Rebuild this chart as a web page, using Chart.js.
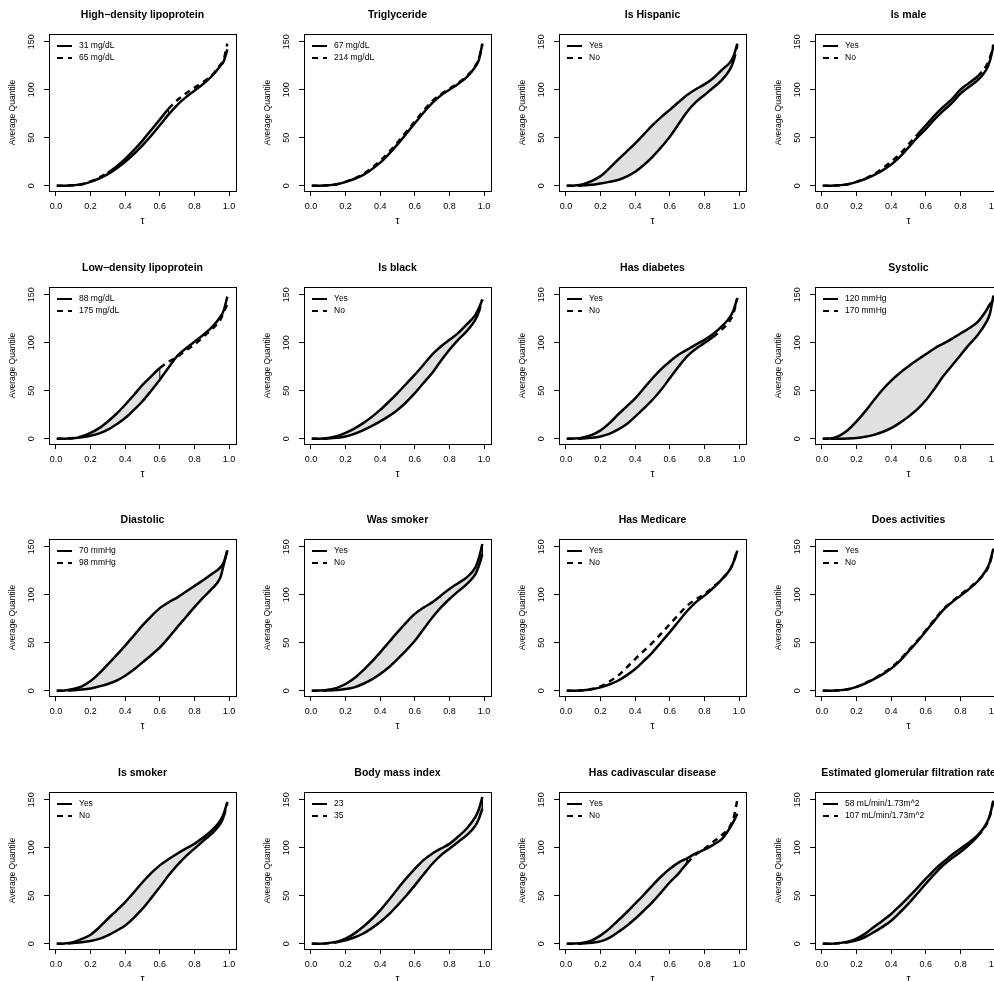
<!DOCTYPE html>
<html>
<head>
<meta charset="utf-8">
<script src="https://cdn.jsdelivr.net/npm/chart.js@4.4.1/dist/chart.umd.min.js"></script>
<style>
html, body { margin: 0; padding: 0; background: #fff; overflow: hidden; }
#wrap { position: relative; width: 994px; height: 981px; overflow: hidden; }
canvas { position: absolute; }
</style>
</head>
<body>
<div id="wrap"></div>
<script>
// quantile levels shared by every panel
const tau = [0.005, 0.05, 0.1, 0.15, 0.2, 0.25, 0.3, 0.35, 0.4, 0.45, 0.5, 0.55, 0.6, 0.65, 0.7, 0.75, 0.8, 0.85, 0.9, 0.95, 0.97, 0.99];

const titles = [
    'High\u2212density lipoprotein', 'Triglyceride', 'Is Hispanic', 'Is male',
    'Low\u2212density lipoprotein', 'Is black', 'Has diabetes', 'Systolic',
    'Diastolic', 'Was smoker', 'Has Medicare', 'Does activities',
    'Is smoker', 'Body mass index', 'Has cadivascular disease', 'Estimated glomerular filtration rate'
];

const legendLabels = [
    ['31 mg/dL', '65 mg/dL'], ['67 mg/dL', '214 mg/dL'], ['Yes', 'No'], ['Yes', 'No'],
    ['88 mg/dL', '175 mg/dL'], ['Yes', 'No'], ['Yes', 'No'], ['120 mmHg', '170 mmHg'],
    ['70 mmHg', '98 mmHg'], ['Yes', 'No'], ['Yes', 'No'], ['Yes', 'No'],
    ['Yes', 'No'], ['23', '35'], ['Yes', 'No'], ['58 mL/min/1.73m^2', '107 mL/min/1.73m^2']
];

// average quantile, solid group / dashed group
const hdlSolid   = [0, 0, 0.5, 1.5, 4, 7.5, 12, 18, 25, 33, 42, 52, 63, 74, 84, 92, 99, 106, 114, 125, 130, 142];
const hdlDashed  = [0, 0, 0.5, 1.5, 4.5, 8.5, 13.5, 20, 28, 37, 47, 58, 69, 80, 89, 96, 102, 108, 115, 126, 132, 148];
const triSolid   = [0, 0, 0.5, 1.5, 4, 7, 11, 17, 24, 33, 43, 54, 65, 76, 86, 94, 100, 106, 113, 124, 131, 148];
const triDashed  = [0, 0, 0.5, 1.5, 4, 7.5, 12, 18.5, 26, 35, 45, 56, 67, 78, 88, 95, 101, 107, 114, 125, 132, 147];
const hispSolid  = [0, 0.3, 1.7, 5, 10, 18, 27, 35.5, 44, 53.5, 63, 71.5, 79, 87, 94.5, 100.5, 105.5, 112, 120.5, 129, 136, 148];
const hispDashed = [0, 0, 0.3, 1, 2.4, 4, 6, 9.5, 14.6, 21.5, 30, 40, 51, 64, 77, 87, 94.5, 102, 110, 122, 131, 146];
const maleSolid  = [0, 0, 0.5, 1.5, 4, 7, 11, 16, 22, 30, 40, 50, 59, 69, 78, 86, 96, 103, 110, 121, 130, 145];
const maleDashed = [0, 0, 0.5, 1.5, 4, 7.5, 12, 18, 25, 33, 43, 53, 63, 73, 82, 90, 100, 107, 114, 125, 133, 147];
const ldlSolid   = [0, 0, 0.5, 1.5, 3, 5.5, 9.4, 15, 21.5, 30, 39, 50, 61.5, 74, 86, 94, 101, 108, 116, 127, 134, 148];
const ldlDashed  = [0, 0, 0.8, 2.5, 6, 11, 18, 26, 35.4, 45.5, 56, 65, 73.6, 80, 85, 92, 98, 106, 114, 124, 132, 140];
const blackSolid  = [0, 0, 0.8, 2.5, 6, 10.5, 16, 22.5, 30, 38.5, 47.5, 57, 66.7, 77, 87.5, 96, 103, 110, 119, 129, 136, 145];
const blackDashed = [0, 0, 0.3, 1, 2.4, 5, 8.7, 13, 18, 23.5, 30, 38, 47.5, 58, 68.4, 81, 92.7, 103, 112, 124, 132, 145];
const diabSolid  = [0, 0.2, 1.4, 4, 8.7, 16, 25, 33.5, 42, 52.5, 63, 72.5, 80.5, 87.5, 92.7, 98, 103, 109, 117, 127.4, 135, 146.5];
const diabDashed = [0, 0, 0.3, 1, 2.4, 5, 9.4, 15, 23, 31.5, 40.6, 51, 63, 75, 85.8, 93.5, 99.7, 106, 113.5, 124, 132, 146.5];
const sysSolid   = [0, 0.2, 3, 9, 18, 28.5, 40, 51, 60.5, 68.5, 75.5, 82, 88, 94, 99, 104, 109.6, 115, 121.7, 133.8, 140, 144];
const sysDashed  = [0, 0, 0, 0.2, 0.7, 2, 4, 7, 11, 16.5, 23, 30.5, 40, 52, 65, 76, 87, 98, 108, 121.7, 130, 149];
const diaSolid   = [0, 0.3, 1.7, 4.5, 10, 18, 27.5, 37, 47, 57.5, 68, 77.5, 86, 92, 97, 103, 109, 115, 121.5, 128.5, 134, 146];
const diaDashed  = [0, 0, 0.5, 1.2, 2.4, 4.5, 7, 10.5, 15.6, 22, 29.5, 37, 45, 55, 66, 76.5, 87, 97, 106, 118, 132, 146];
const wasSolid   = [0, 0.2, 1, 3, 7, 13, 21, 30, 40, 50.5, 61, 71, 80, 86.5, 92, 99, 106, 112, 118, 128.5, 138, 152.8];
const wasDashed  = [0, 0, 0.3, 0.8, 1.7, 3.5, 7, 11.5, 17.4, 24.5, 33, 42, 52, 64, 76, 86.5, 95.5, 103.5, 111, 121.5, 130, 142];
const mediSolid  = [0, 0, 0.5, 1.5, 3.5, 6.5, 10.4, 16, 22.6, 31, 40, 50.5, 61, 72, 83, 92, 99, 107, 116, 127, 135, 146];
const mediDashed = [0, 0, 0.5, 1.8, 4.5, 9.5, 15.6, 24, 33, 41.5, 50, 59.5, 69.4, 79, 88.5, 95, 100.7, 108, 116, 127, 135, 146];
const actSolid   = [0, 0, 0.5, 1.5, 4, 7.5, 12, 17, 23, 31, 41, 51, 62, 73, 84, 92, 99, 106, 114, 126, 134, 148];
const actDashed  = [0, 0, 0.5, 1.5, 4, 8, 12.5, 18, 24, 32, 42, 52, 63, 74, 85, 92.5, 100, 107, 114.5, 125, 133, 147];
const smkSolid   = [0, 0.3, 1.7, 5, 9.4, 17, 26, 34.5, 43.4, 53.5, 64, 73.5, 81.6, 88, 93.75, 99, 104, 110.5, 118, 128.5, 136, 147.6];
const smkDashed  = [0, 0, 0.7, 1.5, 2.8, 5, 8.7, 13.5, 19, 27, 36.5, 47.5, 59, 71, 81.6, 91, 99, 107, 114.6, 125, 133, 146];
const bmiSolid   = [0, 0, 0.7, 2, 5.2, 10.5, 17.4, 25.5, 34.7, 45.5, 57, 68, 78, 87, 93.75, 99, 104, 111.5, 120, 132, 140, 152.8];
const bmiDashed  = [0, 0, 0.5, 1.5, 3.5, 6.5, 10.4, 16, 22.6, 30.5, 40, 50, 60.8, 72, 83, 92, 99, 106, 113, 123, 130, 140.6];
const cvdSolid   = [0, 0.2, 1, 3.5, 8.7, 15.5, 24, 32.5, 41.7, 51, 60.8, 70, 78, 84.5, 89, 94, 98, 103, 109, 121.5, 128, 135.4];
const cvdDashed  = [0, 0, 0.3, 1, 2.4, 6, 12, 18.5, 26, 34.5, 43.4, 53.5, 64, 73, 84, 93, 99, 106, 113, 123, 132, 150];
const gfrSolid   = [0, 0, 0.7, 2, 5.2, 10.5, 17.4, 24, 31, 39.5, 48.6, 58, 67.7, 77, 85, 92.5, 99, 105.5, 113, 125, 134, 149];
const gfrDashed  = [0, 0, 0.5, 1.5, 3.5, 7, 12, 17.5, 24, 32.5, 41.7, 52, 62.5, 72.5, 81.6, 89, 95.5, 103, 112, 124, 133, 148];

// shaded region between the two curves, as [first, last] index into tau (null = none)
const bands = [
    [6, 13], null, [2, 20], [11, 18],
    [3, 12], [2, 20], [2, 17], [1, 21],
    [2, 21], [2, 21], null, null,
    [2, 20], [3, 21], [2, 14], [3, 18]
];

const xTicks = [0, 0.2, 0.4, 0.6, 0.8, 1.0];
const yTicks = [0, 50, 100, 150];

const solidSeries = [hdlSolid, triSolid, hispSolid, maleSolid, ldlSolid, blackSolid, diabSolid, sysSolid,
    diaSolid, wasSolid, mediSolid, actSolid, smkSolid, bmiSolid, cvdSolid, gfrSolid];
const dashedSeries = [hdlDashed, triDashed, hispDashed, maleDashed, ldlDashed, blackDashed, diabDashed, sysDashed,
    diaDashed, wasDashed, mediDashed, actDashed, smkDashed, bmiDashed, cvdDashed, gfrDashed];

const FONT = '"Liberation Sans", Arial, Helvetica, sans-serif';
const DASH = [6, 5];

// R-style frame, titles, legend and rotated y labels
const rFrame = {
    id: 'rFrame',
    afterDatasetsDraw(chart) {
        const a = chart.chartArea, ctx = chart.ctx;
        ctx.save();
        ctx.strokeStyle = '#000';
        ctx.lineWidth = 1;
        ctx.strokeRect(Math.round(a.left) + 0.5, Math.round(a.top) + 0.5,
            Math.round(a.right - a.left), Math.round(a.bottom - a.top));
        ctx.restore();
    },
    afterDraw(chart, args, opts) {
        const a = chart.chartArea, ctx = chart.ctx;
        const cx = (a.left + a.right) / 2;
        ctx.save();
        ctx.fillStyle = '#000';
        ctx.textBaseline = 'middle';

        ctx.textAlign = 'center';
        ctx.font = 'bold 10.5px ' + FONT;
        ctx.fillText(opts.title, cx, 15);

        ctx.font = '10px ' + FONT;
        ctx.fillText('\u03c4', cx, 221);

        // y tick labels, rotated like R's las=0
        const ys = chart.scales.y;
        ctx.font = '9px ' + FONT;
        ys.ticks.forEach(function(t) {
            ctx.save();
            ctx.translate(32, ys.getPixelForValue(t.value));
            ctx.rotate(-Math.PI / 2);
            ctx.fillText(String(t.value), 0, 0);
            ctx.restore();
        });

        ctx.save();
        ctx.font = '8.5px ' + FONT;
        ctx.translate(13, (a.top + a.bottom) / 2);
        ctx.rotate(-Math.PI / 2);
        ctx.fillText('Average Quantile', 0, 0);
        ctx.restore();

        // legend
        ctx.textAlign = 'left';
        ctx.font = '8.5px ' + FONT;
        ctx.strokeStyle = '#000';
        ctx.lineWidth = 2;
        opts.labels.forEach(function(lab, k) {
            const y = a.top + 12 + k * 12;
            ctx.setLineDash(k === 0 ? [] : DASH);
            ctx.beginPath();
            ctx.moveTo(a.left + 8, y);
            ctx.lineTo(a.left + 23, y);
            ctx.stroke();
            ctx.fillText(lab, a.left + 30, y);
        });
        ctx.restore();
    }
};

const wrap = document.getElementById('wrap');

titles.forEach(function(title, i) {
    const col = i % 4, row = Math.floor(i / 4);
    const cv = document.createElement('canvas');
    cv.width = 255;
    cv.height = 252;
    cv.style.left = Math.round(col * 255.2) + 'px';
    cv.style.top = Math.round(row * 252.7) + 'px';
    wrap.appendChild(cv);

    const solid = solidSeries[i], dashed = dashedSeries[i];
    const band = bands[i];
    const toXY = ys => tau.map((t, k) => ({ x: t, y: ys[k] }));
    // inside the shaded band the outline is solid
    const inBand = c => band && c.p0DataIndex >= band[0] && c.p1DataIndex <= band[1];

    const datasets = [
        { data: toXY(solid), borderColor: '#000', borderWidth: 2.5, pointRadius: 0,
          fill: false, cubicInterpolationMode: 'monotone', order: 0 },
        { data: toXY(dashed), borderColor: '#000', borderWidth: 2.5, borderDash: DASH, pointRadius: 0,
          fill: false, cubicInterpolationMode: 'monotone', order: 1,
          segment: { borderDash: c => inBand(c) ? [] : DASH } }
    ];

    if (band) {
        const poly = [];
        for (let k = band[0]; k <= band[1]; k++) poly.push({ x: tau[k], y: solid[k] });
        for (let k = band[1]; k >= band[0]; k--) poly.push({ x: tau[k], y: dashed[k] });
        poly.push({ x: tau[band[0]], y: solid[band[0]] });
        datasets.push({ data: poly, borderColor: '#000', borderWidth: 1, backgroundColor: '#e0e0e0',
            pointRadius: 0, fill: 'shape', tension: 0, order: 2 });
    }

    new Chart(cv, {
        type: 'line',
        data: { datasets: datasets },
        options: {
            responsive: false,
            animation: false,
            devicePixelRatio: 1,
            events: [],
            layout: { padding: { top: 34, right: 19, left: 0, bottom: 0 } },
            scales: {
                x: {
                    type: 'linear',
                    min: -0.04,
                    max: 1.04,
                    afterFit(s) { s.height = 61; },
                    afterBuildTicks(s) { s.ticks = xTicks.map(v => ({ value: v })); },
                    grid: { drawOnChartArea: false, drawTicks: true, tickLength: 5, color: '#000' },
                    border: { display: false },
                    ticks: {
                        padding: 5,
                        color: '#000',
                        font: { family: FONT, size: 9 },
                        maxRotation: 0,
                        callback: v => v.toFixed(1)
                    }
                },
                y: {
                    type: 'linear',
                    min: -5.5,
                    max: 158,
                    afterFit(s) { s.width = 49; },
                    afterBuildTicks(s) { s.ticks = yTicks.map(v => ({ value: v })); },
                    grid: { drawOnChartArea: false, drawTicks: true, tickLength: 5, color: '#000' },
                    border: { display: false },
                    ticks: { color: 'rgba(0,0,0,0)', font: { family: FONT, size: 9 } }
                }
            },
            plugins: {
                legend: { display: false },
                tooltip: { enabled: false },
                rFrame: { title: title, labels: legendLabels[i] }
            }
        },
        plugins: [rFrame]
    });
});
</script>
</body>
</html>
